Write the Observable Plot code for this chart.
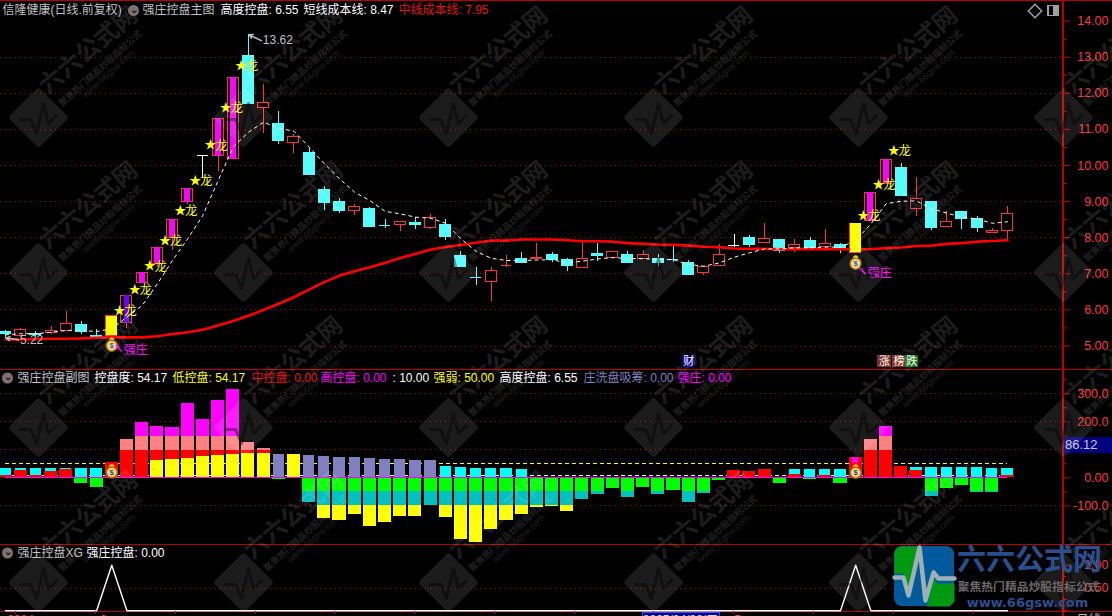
<!DOCTYPE html>
<html><head><meta charset="utf-8">
<script src="https://cdn.jsdelivr.net/npm/d3@7"></script>
<script src="https://cdn.jsdelivr.net/npm/@observablehq/plot@0.6"></script>
<style>
html,body{margin:0;padding:0;background:#000;overflow:hidden}
#page{position:relative;width:1112px;height:616px;overflow:hidden;background:#000}
#page>div,#page>svg{position:absolute;left:0}
.ln{background:#b80000}
#box{left:1064px!important;top:437px;width:48px;height:16px;background:#000080;color:#c8c8d8;font:13px "Liberation Sans";line-height:16px;padding-left:1px;box-sizing:border-box}
</style></head><body><div id="page"></div>
<script>
const opens =[5.40,5.29,5.33,5.36,5.42,5.57,5.28,5.29,5.63,6.74,7.28,8.00,8.98,10.27,10.26,10.18,13.02,11.59,11.15,10.62,10.35,9.33,9.00,8.74,8.80,8.33,8.36,8.42,8.28,8.34,7.48,6.90,6.77,7.22,7.42,7.40,7.51,7.37,7.17,7.56,7.43,7.53,7.41,7.41,7.40,7.31,7.01,7.21,7.78,7.98,7.86,7.94,7.71,7.92,7.75,7.81,7.59,8.46,9.49,9.92,8.79,8.99,8.29,8.70,8.52,8.13,8.18];
const closes=[5.33,5.43,5.30,5.42,5.62,5.38,5.26,5.82,6.39,7.03,7.72,8.50,9.35,10.27,11.29,12.43,11.70,11.74,10.67,10.79,9.73,8.96,8.74,8.86,8.31,8.33,8.44,8.34,8.55,8.01,7.20,6.90,7.08,7.22,7.31,7.44,7.39,7.21,7.42,7.48,7.61,7.31,7.53,7.29,7.40,6.98,7.19,7.53,7.78,7.81,7.97,7.63,7.80,7.71,7.83,7.70,8.39,9.24,10.16,9.15,9.08,8.26,8.44,8.53,8.26,8.19,8.66];
const highs =[5.43,5.48,5.40,5.54,5.96,5.68,5.45,5.82,6.39,7.03,7.72,8.50,9.35,10.27,11.29,12.43,13.62,12.24,11.50,10.85,10.46,9.42,9.08,8.92,8.85,8.50,8.44,8.57,8.64,8.50,7.62,7.17,7.17,7.51,7.59,7.84,7.59,7.42,7.90,7.84,7.61,7.62,7.65,7.53,7.76,7.37,7.19,7.81,8.09,8.06,8.39,7.94,7.95,8.00,8.23,7.84,8.39,9.24,10.16,10.06,9.67,8.99,8.73,8.73,8.59,8.26,8.86];
const lows  =[5.22,5.24,5.26,5.31,5.42,5.32,5.23,5.20,5.48,6.74,7.18,7.65,8.92,9.68,9.82,10.18,11.70,10.90,10.58,10.34,9.73,8.75,8.68,8.62,8.29,8.26,8.17,8.23,8.24,7.92,7.20,6.68,6.23,7.18,7.29,7.40,7.31,7.06,7.15,7.34,7.43,7.29,7.41,7.20,7.31,6.98,6.95,7.21,7.73,7.73,7.83,7.57,7.60,7.71,7.63,7.56,7.55,8.46,9.49,9.15,8.59,8.20,8.29,8.23,8.14,8.13,7.92];
const midCost=[5.18,5.18,5.19,5.20,5.20,5.21,5.23,5.24,5.24,5.24,5.27,5.33,5.38,5.45,5.57,5.69,5.84,6.00,6.17,6.35,6.56,6.77,6.95,7.07,7.18,7.30,7.44,7.55,7.67,7.74,7.80,7.86,7.92,7.92,7.95,7.95,7.95,7.93,7.90,7.90,7.89,7.85,7.83,7.81,7.80,7.78,7.75,7.74,7.70,7.69,7.69,7.68,7.68,7.68,7.68,7.68,7.68,7.68,7.71,7.73,7.77,7.78,7.83,7.85,7.89,7.91,7.93];
const shortCost=[5.31,5.34,5.34,5.38,5.43,5.43,5.40,5.48,5.80,6.12,6.72,7.37,7.97,8.62,9.58,10.51,10.92,11.20,11.03,10.95,10.51,10.05,9.63,9.26,9.03,8.73,8.66,8.57,8.54,8.40,7.97,7.62,7.43,7.37,7.37,7.38,7.39,7.30,7.35,7.41,7.45,7.42,7.42,7.40,7.39,7.26,7.21,7.30,7.46,7.58,7.69,7.69,7.72,7.72,7.74,7.74,7.92,8.38,8.94,9.01,9.02,8.80,8.68,8.57,8.52,8.40,8.44];
const yellowBars=[7,56], purpleBars=[8], magentaBars=[9,10,11,12,14,15,57,58], whiteDoji=[13,48], redDoji=[33];
const starIdx=[8,9,10,11,12,13,14,15,16,57,58,59];
const starPrice=[5.96,6.56,7.20,7.91,8.73,9.58,10.55,11.60,12.76,8.61,9.46,10.41];
const priceTicks=[5,6,7,8,9,10,11,12,13,14], priceMinor=[5.5,6.5,7.5,8.5,9.5,10.5,11.5,12.5,13.5], priceGrid=[5,6,7,8,9,10,11,12,13];

const cyanTop=[33.3,33.3,33.3,33.3,33.3,33.3,33.3,0,0,0,0,0,0,0,0,0,0,0,0,0,0,0,0,0,0,0,0,0,0,40.5,36.9,33.3,33.3,33.3,29.8,0,0,0,0,0,0,0,0,0,0,0,0,0,0,0,0,0,29.8,29.8,29.8,29.8,0,0,0,0,36.9,36.9,36.9,36.9,36.9,33.3,33.3];
const redTop=[7.1,26.2,7.1,22.6,29.8,0,0,54.7,96.4,96.4,96.4,96.4,96.4,96.4,96.4,96.4,96.4,96.4,0,0,0,0,0,0,0,0,0,0,0,0,0,0,0,0,0,0,0,0,0,0,0,0,0,0,0,0,0,0,26.2,22.6,29.8,0,11.9,0,8.3,0,72.6,96.4,96.4,40.5,26.2,0,0,0,0,0,8.3];
const pinkTop=[0,0,0,0,0,0,0,0,136.9,147.6,147.6,147.6,147.6,147.6,147.6,147.6,126,104.7,0,0,0,0,0,0,0,0,0,0,0,0,0,0,0,0,0,0,0,0,0,0,0,0,0,0,0,0,0,0,0,0,0,0,0,0,0,0,0,136.9,147.6,0,0,0,0,0,0,0,0];
const magentaTop=[0,0,0,0,0,0,0,0,0,197.5,183.3,179.7,265.4,208.3,276,315.4,0,0,0,0,0,0,0,0,0,0,0,0,0,0,0,0,0,0,0,0,0,0,0,0,0,0,0,0,0,0,0,0,0,0,0,0,0,0,0,0,0,0,183.3,0,0,0,0,0,0,0,0];
const yellowTop=[0,0,0,0,0,0,0,0,0,0,61.9,65.5,69,76.2,79.7,83.3,86.9,86.9,0,83.3,0,0,0,0,0,0,0,0,0,0,0,0,0,0,0,0,0,0,0,0,0,0,0,0,0,0,0,0,0,0,0,0,0,0,0,0,0,0,0,0,0,0,0,0,0,0,0];
const lavenderTop=[0,0,0,0,0,0,0,0,0,0,0,0,0,0,0,0,0,0,83.3,0,79.7,76.2,72.6,72.6,69,65.5,65.5,61.9,61.9,0,0,0,0,0,0,0,0,0,0,0,0,0,0,0,0,0,0,0,0,0,0,0,0,0,0,0,0,0,0,0,0,0,0,0,0,0,0];
const washNeg=[0,0,0,0,0,-20,-34.5,0,0,0,0,0,0,0,0,0,0,0,-6,0,-88,-145,-152,-131,-174,-159,-138,-138,-99,-142,-220,-231,-184,-152,-131,-106,-102,-120,-77,-59.5,-38,-70,-34.5,-59.5,-45,-88,-56,-9.5,0,0,0,-20,0,-6,0,-20,0,0,0,0,0,-66.6,-38,-27,-52,-52,0];
const subTicks=[300,200,0,-100], subMajor=[300,200,100,0,-100], subMinor=[350,250,150,50,-50], subGrid=[300,200,100,-100];
const xgValues=[0,0,0,0,0,0,0,1,0,0,0,0,0,0,0,0,0,0,0,0,0,0,0,0,0,0,0,0,0,0,0,0,0,0,0,0,0,0,0,0,0,0,0,0,0,0,0,0,0,0,0,0,0,0,0,0,1,0,0,0,0,0,0,0,0,0,0];
const xgTicks=[1,0.5];
const tagLabels=["财","涨","榜","跌"], tagIndex=[45,57.9,58.85,59.7], tagFill=["#000080","#803020","#803020","#107010"];
const header1=[["信隆健康(日线.前复权)",2,"#c0c0c0"],["强庄控盘主图",142,"#c0c0c0"],["高度控盘: 6.55",220,"#fff"],["短线成本线: 8.47",303,"#fff"],["中线成本线: 7.95",398,"#e81010"]];
const header2=[["强庄控盘副图",17,"#c0c0c0"],["控盘度: 54.17",94,"#fff"],["低控盘: 54.17",172,"#ff0"],["中控盘: 0.00",251,"#e81010"],["高控盘: 0.00",320,"#f0f"],[": 10.00",392,"#fff"],["强弱: 50.00",433,"#ff0"],["高度控盘: 6.55",499,"#fff"],["庄洗盘吸筹: 0.00",583,"#8080c0"],["强庄: 0.00",677,"#f0f"]];
const header3=[["强庄控盘XG",17,"#c0c0c0"],["强庄控盘: 0.00",86,"#fff"]];

const FONT='"Liberation Sans","Noto Sans CJK SC",sans-serif';
const RED="#ff3232", CYAN="#54fcfc", AXIS="#c80000", GRID="#a80000", TICK="#ff3838";
const crisp={shapeRendering:"crispEdges"};
const page=document.getElementById("page");
const base=(h,y,marks)=>Plot.plot({width:1112,height:h,marginTop:0,marginBottom:0,marginLeft:0,marginRight:49,
  x:{domain:[0,66],range:[5,1007],axis:null},y:{...y,axis:null},color:{type:"identity"},
  style:{background:"transparent",fontFamily:FONT,fontSize:"12.5px",color:TICK},marks});
const yAxes=(major,labels,minor,fmt,pad=38)=>[
  Plot.axisY(major,{anchor:"right",tickSize:6,tickFormat:()=>"",label:null,stroke:AXIS}),
  Plot.axisY(minor,{anchor:"right",tickSize:3,tickFormat:()=>"",label:null,stroke:AXIS}),
  Plot.text(labels,{y:d=>d,frameAnchor:"right",dx:45,text:fmt,textAnchor:"end",fill:TICK,fontSize:12.5})
];
const grid=a=>Plot.ruleY(a,{stroke:GRID,strokeDasharray:"1 4",...crisp});

/* main */
const candles=opens.map((o,i)=>({i,o,c:closes[i],h:highs[i],l:lows[i]}));
const bodyColor=d=>whiteDoji.includes(d.i)?"#fff":(d.c>d.o||redDoji.includes(d.i))?RED:CYAN;
const bodies=candles.filter(d=>d.o!==d.c), dojis=candles.filter(d=>d.o===d.c);
const line=a=>a.map((v,i)=>({i,v}));
const stars=starIdx.map((i,k)=>({i,p:starPrice[k]}));
const bagMarks=(data)=>[
  Plot.dot(data,{x:"i",y:"p",r:2.5,dy:-6,fill:"#e8c020"}),
  Plot.dot(data,{x:"i",y:"p",r:5.5,fill:"#f4d24a",stroke:"#a87000"}),
  Plot.dot(data,{x:"i",y:"p",r:3.5,fill:"#e8e4d8"}),
  Plot.text(data,{x:"i",y:"p",text:()=>"$",fontSize:8,fontWeight:"bold",fill:"#444"})
];
const sel=(arr)=>candles.filter(d=>arr.includes(d.i));
const tags=tagLabels.map((t,k)=>({t,i:tagIndex[k],f:tagFill[k]}));
const mainBags=[{i:7,p:5.01},{i:56,p:7.28}];
const bagLabels=[{i:7,p:4.88},{i:56,p:7.02}];
const extremes=[{i:16,p:13.62,tx:16.95,ty:13.46,t:"13.62"},{i:0,p:5.22,tx:0.95,ty:5.17,t:"5.22"}];
const main=base(369,{domain:[5,14],range:[345.5,20.6]},[
  grid(priceGrid),
  Plot.ruleX(candles,{x:"i",y1:"l",y2:"h",stroke:bodyColor,...crisp}),
  Plot.rect(bodies,{x1:d=>d.i-.36,x2:d=>d.i+.36,y1:"o",y2:"c",fill:d=>d.c>d.o?"#000":CYAN,stroke:bodyColor,...crisp}),
  Plot.ruleY(dojis,{x1:d=>d.i-.36,x2:d=>d.i+.36,y:"c",stroke:bodyColor,...crisp}),
  Plot.rect(sel(magentaBars),{x1:d=>d.i-.2,x2:d=>d.i+.2,y1:"o",y2:"c",fill:"#ff00ff",...crisp}),
  Plot.rect(sel(purpleBars),{x1:d=>d.i-.18,x2:d=>d.i+.18,y1:"o",y2:"c",fill:"#6a00ff",...crisp}),
  Plot.line(line(midCost),{x:"i",y:"v",stroke:"#ff0000",strokeWidth:2.6}),
  Plot.line(line(shortCost),{x:"i",y:"v",stroke:"#fff",strokeWidth:1,strokeDasharray:"3 4"}),
  Plot.rect(sel(yellowBars),{x1:d=>d.i-.36,x2:d=>d.i+.36,y1:"o",y2:"c",fill:"#ffff00",...crisp}),
  Plot.text(stars,{x:"i",y:"p",text:()=>"★",dx:-7.5,fill:"#ffff00",fontSize:12}),
  Plot.text(stars,{x:"i",y:"p",text:()=>"龙",dx:3.5,fill:"#ffff00",fontSize:12.5}),
  ...bagMarks(mainBags),
  Plot.arrow(bagLabels,{x1:d=>d.i+.62,y1:d=>d.p-.02,x2:d=>d.i+.3,y2:d=>d.p+.13,stroke:"#ff00ff",bend:0,headLength:4}),
  Plot.text(bagLabels,{x:"i",y:"p",text:()=>"强庄",dx:12,textAnchor:"start",fill:"#ff00ff",fontSize:12}),
  Plot.arrow(extremes,{x1:d=>d.tx-.1,y1:"ty",x2:d=>d.i+.05,y2:"p",stroke:"#c0c0c0",bend:0,headLength:4}),
  Plot.text(extremes,{x:"tx",y:"ty",text:"t",textAnchor:"start",fill:"#c0c0c0",fontSize:12}),
  Plot.rect(tags,{x1:d=>d.i-.43,x2:d=>d.i+.43,y1:()=>4.40,y2:()=>4.74,fill:"f",...crisp}),
  Plot.text(tags,{x:"i",y:()=>4.57,text:"t",fill:"#fff",fontSize:11}),
  ...yAxes(priceTicks,priceTicks,priceMinor,d=>d.toFixed(2))
]);

/* sub */
const layer=(arr,fill,half=.43)=>Plot.rect(line(arr).filter(d=>d.v!==0),{x1:d=>d.i-half,x2:d=>d.i+half,y1:()=>0,y2:"v",fill,...crisp});
const subBags=[{i:7,p:19},{i:56,p:18}];
const sub=base(176,{domain:[-100,300],range:[136.3,24.3]},[
  grid(subGrid),
  Plot.ruleY([50],{x1:0,x2:66,stroke:"#ffff00",strokeDasharray:"4 3",...crisp}),
  Plot.ruleY([10],{x1:0,x2:66,stroke:"#fff",strokeDasharray:"4 3",...crisp}),
  layer(cyanTop,"#00ffff",.37),
  layer(magentaTop,"#ff00ff"),
  layer(pinkTop,"#ff8080"),
  layer(redTop,"#ff0000"),
  Plot.rect([{i:56}],{x1:d=>d.i-.2,x2:d=>d.i+.2,y1:()=>50,y2:()=>72.6,fill:"#ff00ff",...crisp}),
  layer(yellowTop,"#ffff00"),
  layer(lavenderTop,"#8080c0",.37),
  layer(washNeg,"#ffff00"),
  layer(washNeg.map(v=>Math.max(v,-99)),"#00c0c0"),
  layer(washNeg.map(v=>Math.max(v,-50)),"#00ff00"),
  Plot.ruleY([0],{x1:0,x2:66,stroke:"#ff00ff",...crisp}),
  ...bagMarks(subBags),
  ...yAxes(subMajor,subTicks,subMinor,d=>d===0?"0.00":d.toFixed(1))
]);

/* xg */
const xg=base(71,{domain:[0,1],range:[65.3,19.7]},[
  grid([0.5]),
  Plot.line(line(xgValues),{x:"i",y:"v",stroke:"#fff",strokeWidth:1.4}),
  ...yAxes([1,0.5,0],xgTicks,[0.75,0.25],d=>d.toFixed(2))
]);

/* overlay: watermark, header text, logo */
const wm=d3.cross([38,243,448,653,858,1063],[117,272,427,582],(x,y)=>({x,y}));
const pulse=[[-18,2],[-8,2],[-2,16],[5,-14],[10,6],[18,-2]];
const wmPulse=wm.flatMap((c,g)=>pulse.map(([a,b])=>({x:c.x+a,y:c.y+b,g})));
const head=(rows,y)=>Plot.text(rows,{x:d=>d[1],y:()=>y,text:d=>d[0],fill:d=>d[2],textAnchor:"start",fontSize:12});
const chev=[{x:133,y:10},{x:7,y:377.5},{x:7,y:552.5}];
const xyPts=(g,a)=>a.map(([x,y])=>({x,y,g}));
const overlay=Plot.plot({width:1112,height:616,margin:0,x:{domain:[0,1112],range:[0,1112],axis:null},y:{domain:[0,616],range:[0,616],axis:null},color:{type:"identity"},
 style:{background:"transparent",fontFamily:FONT},marks:[
  Plot.dot(wm,{x:"x",y:"y",symbol:"diamond2",r:23,fill:"#fff",stroke:"#fff",strokeWidth:7,strokeLinejoin:"round",opacity:.105}),
  Plot.line(wmPulse,{x:"x",y:"y",z:"g",stroke:"#000",strokeWidth:3,opacity:.4}),
  Plot.text(wm,{x:d=>d.x+50,y:d=>d.y-67,text:()=>"六六公式网",rotate:-40,fontSize:24,fontWeight:"bold",fill:"#fff",opacity:.11}),
  Plot.text(wm,{x:d=>d.x+62,y:d=>d.y-49,text:()=>"聚焦热门精品炒股指标公式",rotate:-42,fontSize:9,fontWeight:"bold",fill:"#fff",opacity:.12}),
  Plot.text(wm,{x:d=>d.x+70,y:d=>d.y-44,text:()=>"www.66gsw.com",rotate:-42,fontSize:9,fill:"#fff",opacity:.12}),
  head(header1,10), head(header2,377.5), head(header3,552.5),
  Plot.dot(chev,{x:"x",y:"y",r:5.5,fill:"#807070"}),
  Plot.text(chev,{x:"x",y:d=>d.y-1,text:()=>"⌄",fill:"#201818",fontSize:10,fontWeight:"bold"}),
  Plot.dot([{x:1034.5,y:10.5}],{x:"x",y:"y",symbol:"diamond2",r:6,stroke:"#a0a0a0"}),
  Plot.rect([{}],{x1:()=>1048,x2:()=>1058,y1:()=>5.5,y2:()=>15.5,stroke:"#a0a0a0",strokeWidth:1.5,fill:"#000",...crisp}),
  Plot.rect([{}],{x1:()=>1053,x2:()=>1058,y1:()=>5.5,y2:()=>15.5,fill:"#a0a0a0",...crisp}),
  /* bottom strip */
  Plot.ruleX([15,95,175,255,334,414,494,574,653,733,813,893,973],{y1:()=>611,y2:()=>614,stroke:AXIS,...crisp}),
  Plot.text([{x:20,t:"2024",c:TICK},{x:103,t:"3",c:TICK},{x:737,t:"5",c:TICK},{x:1088,t:"日线",c:"#c0c0c0"}],{x:"x",y:()=>620,text:"t",fill:"c",fontSize:12}),
  Plot.rect([{}],{x1:()=>642,x2:()=>719,y1:()=>612,y2:()=>620,fill:"#000080",stroke:"#3050ff",...crisp}),
  Plot.text([{x:680}],{x:"x",y:()=>620,text:()=>"2025/04/08/二",fill:"#e0e0ff",fontSize:12}),
  /* logo */
  Plot.rect([{}],{x1:()=>894,x2:()=>954,y1:()=>546,y2:()=>606,rx:8,fill:"#005a9c"}),
  Plot.line(xyPts("a",[[894,573],[903,573],[908,587],[917,546],[899,546],[894,551]]),{x:"x",y:"y",fill:"#009a10",stroke:"none"}),
  Plot.line(xyPts("b",[[954,583],[937,583],[933,578],[927,604],[926,606],[949,606],[954,601]]),{x:"x",y:"y",fill:"#009a10",stroke:"none"}),
  Plot.line(xyPts("c",[[894,577],[903,577],[908,595],[919,547],[925,600],[933,572],[938,578],[954,578]]),{x:"x",y:"y",stroke:"#9db0b4",strokeWidth:4.5,curve:"linear"}),
  Plot.text([{}],{x:()=>1029,y:()=>560,text:()=>"六六公式网",fontSize:29,fontWeight:"bold",fill:"#2a4f8f"}),
  Plot.text([{}],{x:()=>1028,y:()=>587,text:()=>"聚焦热门精品炒股指标公式",fontSize:11.8,fontWeight:"bold",fill:"#6a6a6a"}),
  Plot.text([{}],{x:()=>1027,y:()=>602,text:()=>"www.66gsw.com",fontSize:13,fontFamily:"DejaVu Sans",fontWeight:"bold",fill:"#2a4f8f"})
]});

const place=(el,top)=>{el.style.top=top+"px";el.style.position="absolute";el.style.left="0";page.appendChild(el);return el;};
const rule=(css)=>{const d=document.createElement("div");d.className="ln";d.style.cssText=css;page.appendChild(d);};
rule("top:0;left:0;width:1112px;height:1px");
rule("top:369px;left:0;width:1112px;height:1px");
rule("top:544px;left:0;width:1112px;height:1px");
rule("top:611px;left:0;width:1112px;height:1px");
rule("top:0;left:1062px;width:2px;height:616px");
place(main,0);place(sub,369);place(xg,545);
const box=document.createElement("div");box.id="box";box.textContent="86.12";page.appendChild(box);
place(overlay,0);
</script></body></html>
